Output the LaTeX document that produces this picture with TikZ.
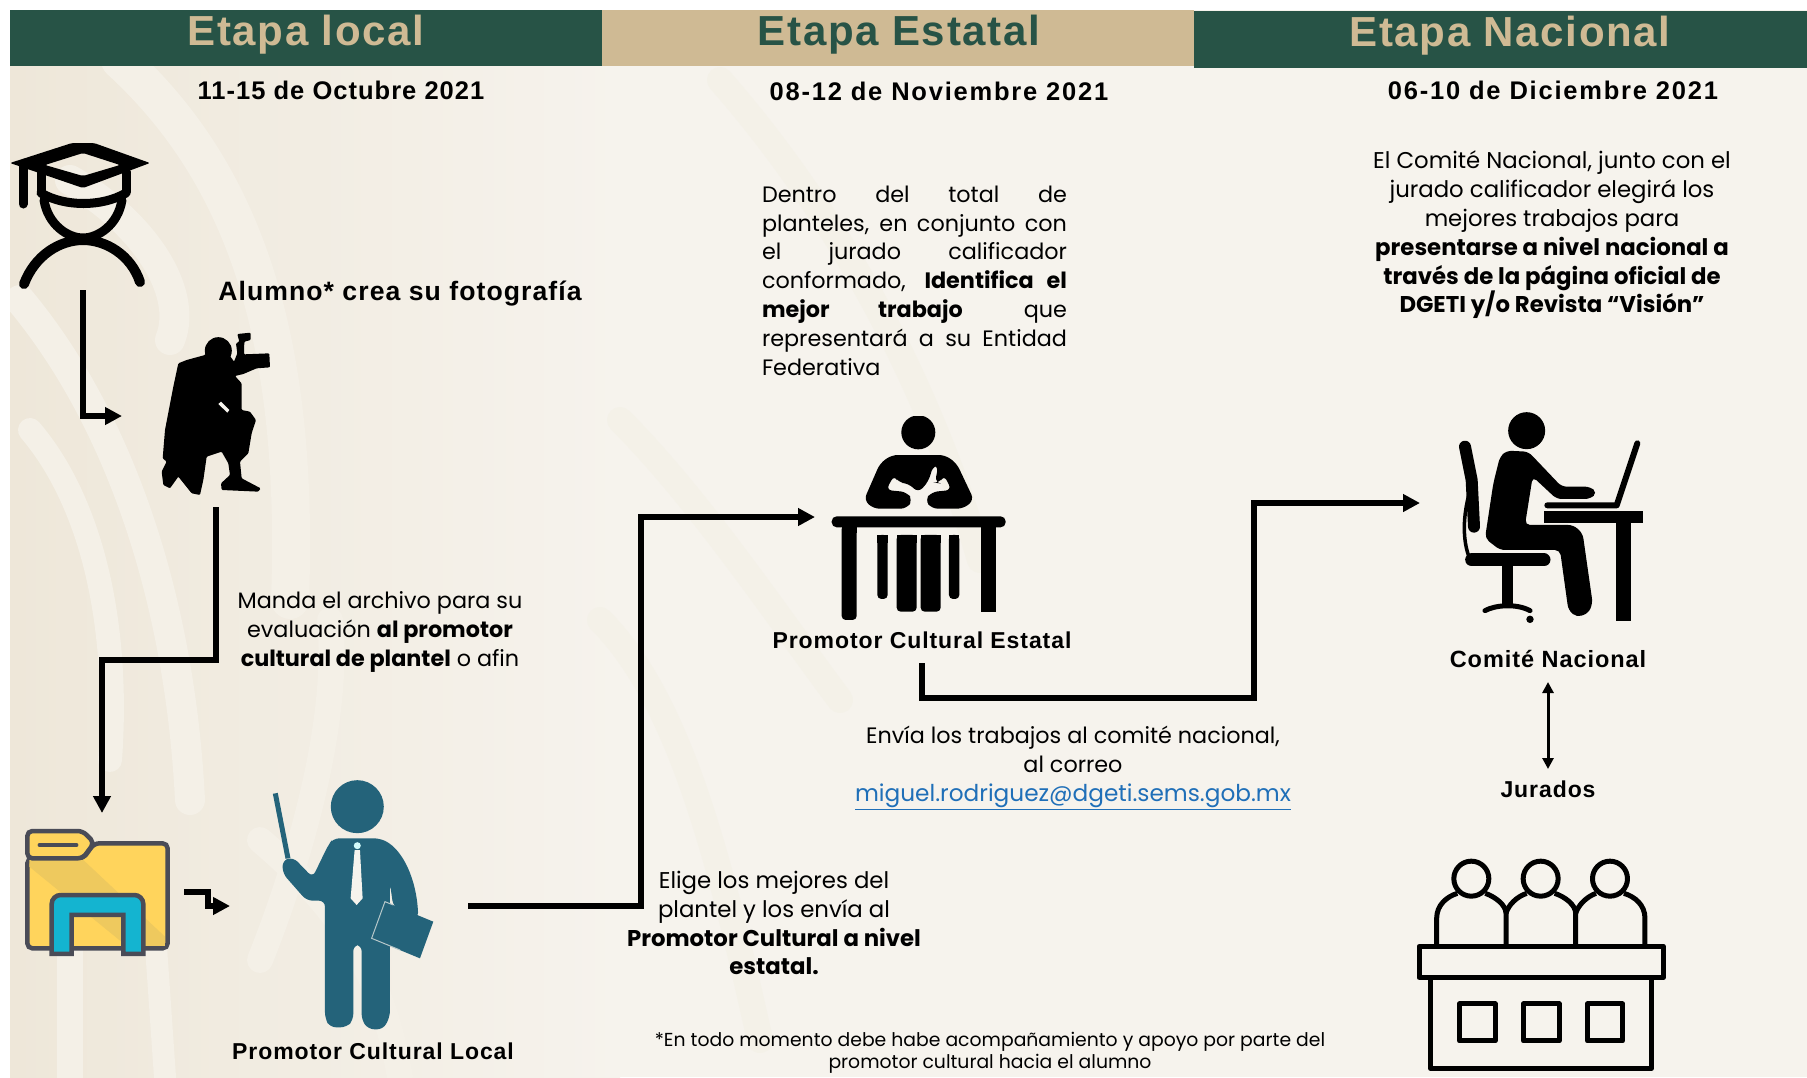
\documentclass[tikz,border=0pt]{standalone}
\usepackage{fontspec}
\setmainfont{Poppins}
\newfontfamily\hfont{Liberation Sans}[LetterSpace=4]
\newfontfamily\hwide{Liberation Sans}[LetterSpace=7]
\usetikzlibrary{arrows.meta}
\definecolor{bgbase}{HTML}{F6F3ED}
\definecolor{bgdark}{HTML}{EEE7D9}
\definecolor{bgstripe}{HTML}{F4F0E7}
\definecolor{bgmid}{HTML}{F4F1E8}
\definecolor{hgreen}{HTML}{275346}
\definecolor{htan}{HTML}{CFBA94}
\definecolor{teal}{HTML}{24637A}
\definecolor{fold}{HTML}{FFD45C}
\definecolor{folddark}{HTML}{EEC95E}
\definecolor{foldline}{HTML}{4A4C57}
\definecolor{foldblue}{HTML}{14B4D0}
\definecolor{linkblue}{HTML}{1F6FB8}
\tikzset{
  x=1pt,y=-1pt,
  conn/.style={draw=black,line width=5.5pt,line join=miter,-{Triangle[length=17pt,width=17pt]}},
  dbl/.style={draw=black,line width=3pt,{Triangle[length=11pt,width=11pt]}-{Triangle[length=11pt,width=11pt]}},
  head/.style={inner sep=0pt,font=\hfont\bfseries\fontsize{42}{44}\selectfont},
  date/.style={inner sep=0pt,font=\hfont\bfseries\fontsize{25.5}{28}\selectfont},
  datew/.style={inner sep=0pt,font=\hwide\bfseries\fontsize{25.5}{28}\selectfont},
  lab/.style={inner sep=0pt,font=\hfont\bfseries\fontsize{23}{26}\selectfont},
  labbig/.style={inner sep=0pt,font=\hfont\bfseries\fontsize{26.6}{28}\selectfont},
  body/.style={inner sep=0pt,align=center,font=\fontsize{22.8}{28.8}\selectfont},
  bodysm/.style={inner sep=0pt,align=center,font=\fontsize{22.3}{28.8}\selectfont},
  foot/.style={inner sep=0pt,align=center,font=\fontsize{18.8}{22}\selectfont},
  stripe/.style={draw=bgstripe,line width=#1,line cap=round},
  fstripe/.style={draw=bgmid,line width=#1,line cap=round},
  ico/.style={draw=black,line width=#1,line cap=round,line join=round},
}
\newcommand{\rbar}[4]{\fill[rounded corners=4pt] (#1,#3) rectangle (#2,#4);\fill (#1,#3) rectangle (#2,#3+25);}
\newcommand{\jl}[1]{\makebox[305pt][s]{#1}}
\begin{document}
\begin{tikzpicture}
\useasboundingbox (0,0) rectangle (1807,1077);
\fill[white] (0,0) rectangle (1807,1077);
\fill[bgbase] (10,10) rectangle (1807,1077);
% ---- background motif
\begin{scope}
\clip (10,66) rectangle (1807,1077);
\shade[left color=bgdark,right color=bgbase] (10,66) rectangle (620,1077);
\draw[stripe=38pt] (120,60) .. controls (240,170) and (300,330) .. (290,600);
\draw[stripe=30pt] (20,300) .. controls (120,420) and (180,600) .. (190,800);
\draw[stripe=24pt] (30,430) .. controls (90,500) and (120,620) .. (110,760);
\draw[stripe=30pt] (70,180) .. controls (140,220) and (190,290) .. (170,340);
\draw[stripe=26pt] (330,620) .. controls (340,720) and (300,860) .. (260,960);
\draw[stripe=26pt] (70,900) -- (70,1077);
\draw[stripe=22pt] (150,860) -- (165,1077);
\draw[stripe=26pt] (260,840) .. controls (330,900) and (380,960) .. (400,1077);
\draw[fstripe=26pt] (620,420) .. controls (700,500) and (780,620) .. (840,700);
\draw[fstripe=26pt] (600,620) .. controls (680,700) and (720,860) .. (760,1040);
\draw[fstripe=26pt] (720,80) .. controls (860,240) and (940,420) .. (980,560);
\end{scope}
% ---- header bars
\fill[hgreen] (10,10) rectangle (602,66);
\fill[htan] (602,10) rectangle (1194,66);
\fill[hgreen] (1194,11) rectangle (1807,68);
\node[head,text=htan] (h1) at (306,35) {Etapa local};
\node[head,text=hgreen] (h2) at (899,35) {Etapa Estatal};
\node[head,text=htan] (h3) at (1510,36) {Etapa Nacional};
\node[date] (d1) at (341,90) {11-15 de Octubre 2021};
\node[datew] (d2) at (939,91) {08-12 de Noviembre 2021};
\node[datew] (d3) at (1553,90) {06-10 de Diciembre 2021};
% ---- student
\begin{scope}
\fill[even odd rule,rounded corners=2pt] (10,163) -- (72,143) -- (94,143) -- (150,163) -- (83,188) -- cycle (83,153) -- (45,165) -- (83,176) -- (120,165) -- cycle;
\draw[ico=9pt] (23,165) -- (23,204);
\draw[ico=9pt] (41,172) -- (41,192);
\draw[ico=9pt] (126,172) -- (126,192);
\draw[ico=9pt] (41,193) .. controls (65,207) and (102,207) .. (126,193);
\draw[ico=9pt] (44,200) .. controls (48,225) and (68,238) .. (83,238) .. controls (98,238) and (118,225) .. (122,200);
\draw[ico=10pt] (24,284) .. controls (35,255) and (60,240) .. (83,240) .. controls (106,240) and (131,255) .. (140,282);
\end{scope}
% ---- photographer
\begin{scope}[shift={(150,320)},x=0.3333pt,y=-0.3333pt]
\fill (205,92) circle[radius=13.5pt];
\fill[rounded corners=1pt] (165,105) -- (180,80) -- (235,100) -- (252,125) -- (262,100) -- (258,70) -- (268,65) -- (262,42) -- (302,38) -- (302,60) -- (283,65) -- (282,103) -- (358,100) -- (360,142) -- (320,145) -- (280,162) -- (255,168) -- (275,190) -- (275,270) -- (300,275) -- (318,300) -- (305,340) -- (295,400) -- (270,425) -- (275,475) -- (332,505) -- (325,515) -- (215,510) -- (213,490) -- (240,465) -- (235,430) -- (215,395) -- (170,410) -- (160,480) -- (150,525) -- (125,520) -- (85,470) -- (60,505) -- (40,495) -- (35,455) -- (50,425) -- (38,415) -- (45,330) -- (70,200) -- (85,130) -- (110,120) -- cycle;
\fill[bgbase] (205,252) -- (213,245) -- (238,270) -- (232,278) -- cycle;
\end{scope}
% ---- folder
\begin{scope}[shift={(0,770)},x=0.3333pt,y=-0.3333pt]
\draw[fill=fold,draw=foldline,line width=4.5pt,rounded corners=5pt] (82,265) -- (82,535) -- (503,535) -- (503,220) -- (283,220) -- (250,265) -- cycle;
\fill[folddark] (88,270) -- (250,270) -- (495,500) -- (495,528) -- (380,528) -- (88,290) -- cycle;
\draw[fill=fold,draw=foldline,line width=4.5pt,rounded corners=5pt] (82,265) -- (82,183) -- (248,183) -- (283,218) -- (248,265) -- cycle;
\draw[foldline,line width=3.5pt,line cap=round] (118,225) -- (230,225);
\draw[fill=foldblue,draw=foldline,line width=4.5pt] (155,552) [rounded corners=9pt] -- (155,375) -- (430,375) [sharp corners] -- (430,552) -- (370,552) -- (370,435) -- (215,435) -- (215,552) -- cycle;
\end{scope}
% ---- teacher
\begin{scope}[shift={(0,770)},x=0.3333pt,y=-0.3333pt]
\fill[teal] (1072,110) circle[radius=26.5pt];
\draw[teal,line width=5pt] (826,70) -- (864,265);
\fill[teal,rounded corners=6pt] (1000,205) -- (1140,205) .. controls (1210,240) and (1250,330) .. (1255,445) -- (1180,410) -- (1170,340) -- (1170,500) -- (1170,740) -- (1150,778) -- (1105,778) -- (1085,750) -- (1085,525) -- (1060,525) -- (1060,750) -- (1040,772) -- (990,772) -- (975,745) -- (975,392) -- (920,392) -- (848,310) -- (848,270) -- (880,262) -- (938,322) -- (985,225) -- cycle;
\fill[bgbase] (1064,240) -- (1080,240) -- (1088,385) -- (1070,405) -- (1052,385) -- cycle;
\fill[bgbase!60!cyan!40!white] (1072,227) circle[radius=3.5pt];
\fill[teal] (1155,395) -- (1300,455) -- (1260,565) -- (1115,505) -- cycle;
\draw[bgbase!70!teal,line width=1pt] (1180,405) -- (1155,395) -- (1115,505) -- (1200,540);
\end{scope}
\node[lab] (promlocal) at (373,1051) {Promotor Cultural Local};
% ---- state promoter
\begin{scope}[shift={(800,400)},x=0.3333pt,y=-0.3333pt]
\begin{scope}
\clip (290,48) rectangle (420,160);
\fill (355,97) circle[radius=17pt];
\end{scope}
\fill[rounded corners=6pt] (275,165) -- (435,165) -- (470,190) -- (522,300) -- (490,326) -- (395,326) -- (375,300) -- (395,276) -- (455,270) -- (432,225) -- (418,250) -- (405,248) -- (415,196) -- (400,196) -- (385,245) -- (355,278) -- (325,250) -- (295,248) -- (283,225) -- (258,270) -- (320,276) -- (338,300) -- (320,326) -- (220,326) -- (192,300) -- (240,190) -- cycle;
\fill[rounded corners=5pt] (95,349) rectangle (617,382);
\rbar{125}{170}{375}{660}
\fill (542,375) rectangle (587,635);
\rbar{232}{263}{405}{597}
\rbar{290}{350}{405}{635}
\rbar{362}{422}{405}{635}
\rbar{447}{478}{405}{597}
\end{scope}
\node[lab] (promest) at (922,640) {Promotor Cultural Estatal};
% ---- national committee
\begin{scope}[shift={(1400,390)},x=0.3333pt,y=-0.3333pt]
\fill (380,122) circle[radius=18.5pt];
\fill[rounded corners=5pt] (320,182) -- (385,185) -- (485,290) -- (570,290) -- (592,308) -- (570,327) -- (470,327) -- (398,260) -- (375,405) -- (520,405) -- (548,430) -- (578,640) -- (565,670) -- (530,682) -- (505,660) -- (480,480) -- (300,480) -- (255,445) -- (280,280) -- (300,200) -- cycle;
\draw[ico=12pt] (195,170) -- (215,270) -- (222,410);
\draw[ico=3.5pt] (205,320) .. controls (188,390) and (190,450) .. (205,495);
\draw[ico=13pt] (215,510) -- (432,510);
\fill (305,510) rectangle (338,650);
\draw[ico=5pt] (255,662) .. controls (285,645) and (350,640) .. (390,662);
\fill (390,688) circle[radius=3.7pt];
\fill (432,362) rectangle (730,400);
\fill (647,400) rectangle (692,693);
\draw[ico=6pt] (442,346) -- (650,346) -- (712,160);
\end{scope}
\node[lab,font=\hfont\bfseries\fontsize{23.5}{26}\selectfont] (comite) at (1548,659) {Comité Nacional};
\node[lab] (jurados) at (1548,789) {Jurados};
% ---- jury
\begin{scope}[shift={(1400,830)},x=0.3333pt,y=-0.3333pt]
\begin{scope}[draw=black,line width=5pt,line join=round]
\draw (214,146) circle[radius=17.5pt];
\draw (422,146) circle[radius=17.5pt];
\draw (630,146) circle[radius=17.5pt];
\draw (110,345) -- (110,265) .. controls (110,225) and (140,200) .. (172,190);
\draw (256,190) .. controls (285,200) and (318,225) .. (318,250) -- (318,345);
\draw (318,250) .. controls (325,225) and (350,200) .. (380,190);
\draw (464,190) .. controls (495,200) and (527,225) .. (527,250) -- (527,345);
\draw (527,250) .. controls (535,225) and (560,200) .. (588,190);
\draw (672,190) .. controls (705,200) and (735,225) .. (735,265) -- (735,345);
\draw (57,349) rectangle (790,442);
\draw (92,442) -- (92,715) -- (755,715) -- (755,442);
\draw (178,522) rectangle (285,633);
\draw (370,522) rectangle (477,633);
\draw (562,522) rectangle (668,633);
\end{scope}
\end{scope}
% ---- texts
\node[labbig] (alumno) at (400,294) {Alumno* crea su fotografía};
\node[bodysm] (manda) at (380,632) {Manda el archivo para su\\evaluación \textbf{al promotor}\\\textbf{cultural de plantel} o afin};
\node[body] (elige) at (774,923) {Elige los mejores del\\plantel y los envía al\\\textbf{Promotor Cultural a nivel}\\\textbf{estatal.}};
\node[bodysm,align=left] (dentro) at (914.5,280.5) {\jl{Dentro del total de}\\\jl{planteles, en conjunto con}\\\jl{el jurado calificador}\\\jl{conformado, \textbf{Identifica el}}\\\jl{\textbf{mejor trabajo} que}\\\jl{representará a su Entidad}\\Federativa};
\node[body] (comitetxt) at (1552,235) {El Comité Nacional, junto con el\\jurado calificador elegirá los\\mejores trabajos para\\\textbf{presentarse a nivel nacional a}\\\textbf{través de la página oficial de}\\\textbf{DGETI y/o Revista “Visión”}};
\node[bodysm] (envia) at (1073,768) {Envía los trabajos al comité nacional,\\al correo\\\textcolor{linkblue}{\underline{\fontsize{23.2}{28.8}\selectfont miguel.rodriguez@dgeti.sems.gob.mx}}};
\node[foot] (nota) at (990,1053) {*En todo momento debe habe acompañamiento y apoyo por parte del\\promotor cultural hacia el alumno};
% ---- connectors
\coordinate (a1s) at (83,290); \coordinate (a1e) at (122,416);
\draw[conn] (a1s) |- (a1e);
\coordinate (a2s) at (216,507); \coordinate (a2b) at (216,660); \coordinate (a2c) at (102,660); \coordinate (a2e) at (102,813);
\draw[conn] (a2s) -- (a2b) -- (a2c) -- (a2e);
\coordinate (a3s) at (184,892); \coordinate (a3b) at (208,892); \coordinate (a3c) at (208,906); \coordinate (a3e) at (230,906);
\draw[conn] (a3s) -- (a3b) -- (a3c) -- (a3e);
\coordinate (a4s) at (468,906); \coordinate (a4b) at (641,906); \coordinate (a4c) at (641,517); \coordinate (a4e) at (815,517);
\draw[conn] (a4s) -- (a4b) -- (a4c) -- (a4e);
\coordinate (a5s) at (922,663); \coordinate (a5b) at (922,698); \coordinate (a5c) at (1254,698); \coordinate (a5d) at (1254,503); \coordinate (a5e) at (1420,503);
\draw[conn] (a5s) -- (a5b) -- (a5c) -- (a5d) -- (a5e);
\coordinate (a6s) at (1548,682); \coordinate (a6e) at (1548,769);
\draw[dbl] (a6s) -- (a6e);
\end{tikzpicture}
\end{document}
